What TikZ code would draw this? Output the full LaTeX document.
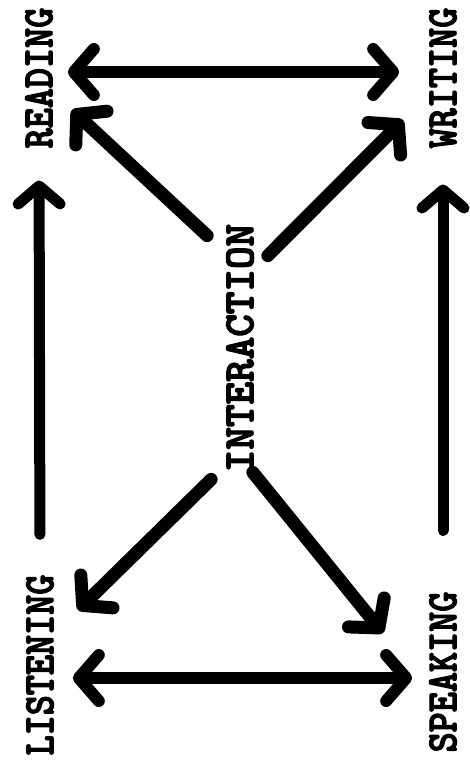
\documentclass[tikz,border=0pt]{standalone}
\usepackage{fontspec}
\newfontfamily\typer{lmmonolt10-bold.otf}[FakeBold=3]
\usetikzlibrary{arrows.meta,calc}
\begin{document}
\begin{tikzpicture}[x=1pt, y=-1pt,
    skill/.style={font=\typer\fontsize{43}{43}\selectfont, rotate=90, inner sep=0pt},
    flow/.style={line width=13pt, line cap=round, -{Straight Barb[round, length=20pt, width=46pt]}},
    both/.style={line width=12pt, line cap=round, {Straight Barb[round, length=20pt, width=46pt]}-{Straight Barb[round, length=20pt, width=46pt]}},
    rise/.style={line width=11pt, line cap=round, -{Straight Barb[round, length=18pt, width=42pt]}}]
    \useasboundingbox[fill=white] (0,0) rectangle (469,766);

    % the four skills and the centre
    \node[skill] (reading) at (39,78) {\scalebox{0.89}[1]{READING}};
    \node[skill] (writing) at (443,78) {\scalebox{0.89}[1]{WRITING}};
    \node[skill] (listening) at (40,665) {\scalebox{0.89}[1]{LISTENING}};
    \node[skill] (speaking) at (443,672) {\scalebox{0.89}[1]{SPEAKING}};
    \node[skill] (inter) at (240,348) {\scalebox{1.0}[1]{INTERACTION}};

    % arrow tips near the skills
    \coordinate (rdtip) at ($(reading)+(33,32)$);
    \coordinate (wrtip) at ($(writing)+(-40,42)$);
    \coordinate (lstip) at ($(listening)+(38,-55)$);
    \coordinate (sptip) at ($(speaking)+(-60,-39)$);

    % from the centre outwards
    \draw[flow] ($(inter.north east)+(-19,12)$) -- (rdtip);
    \draw[flow] ($(inter.south east)+(14,32)$) -- (wrtip);
    \draw[flow] ($(inter.north west)+(-15,7)$) -- (lstip);
    \draw[flow] ($(inter.south west)+(-1,0)$) -- (sptip);

    % across the top and bottom
    \draw[both, shorten <=15pt, shorten >=30pt] ([yshift=6pt]reading.south) -- ([yshift=6pt]writing.north);
    \draw[both, shorten <=19pt, shorten >=17pt] ([yshift=-13pt]listening.south) -- ([yshift=-6pt]speaking.north);

    % up the sides
    \draw[rise, shorten <=36pt, shorten >=35pt] ([yshift=4pt]listening.east) -- ([yshift=3pt]reading.west);
    \draw[rise, shorten <=60pt, shorten >=37pt] ([yshift=1pt]speaking.east) -- ([yshift=1pt]writing.west);
\end{tikzpicture}
\end{document}
